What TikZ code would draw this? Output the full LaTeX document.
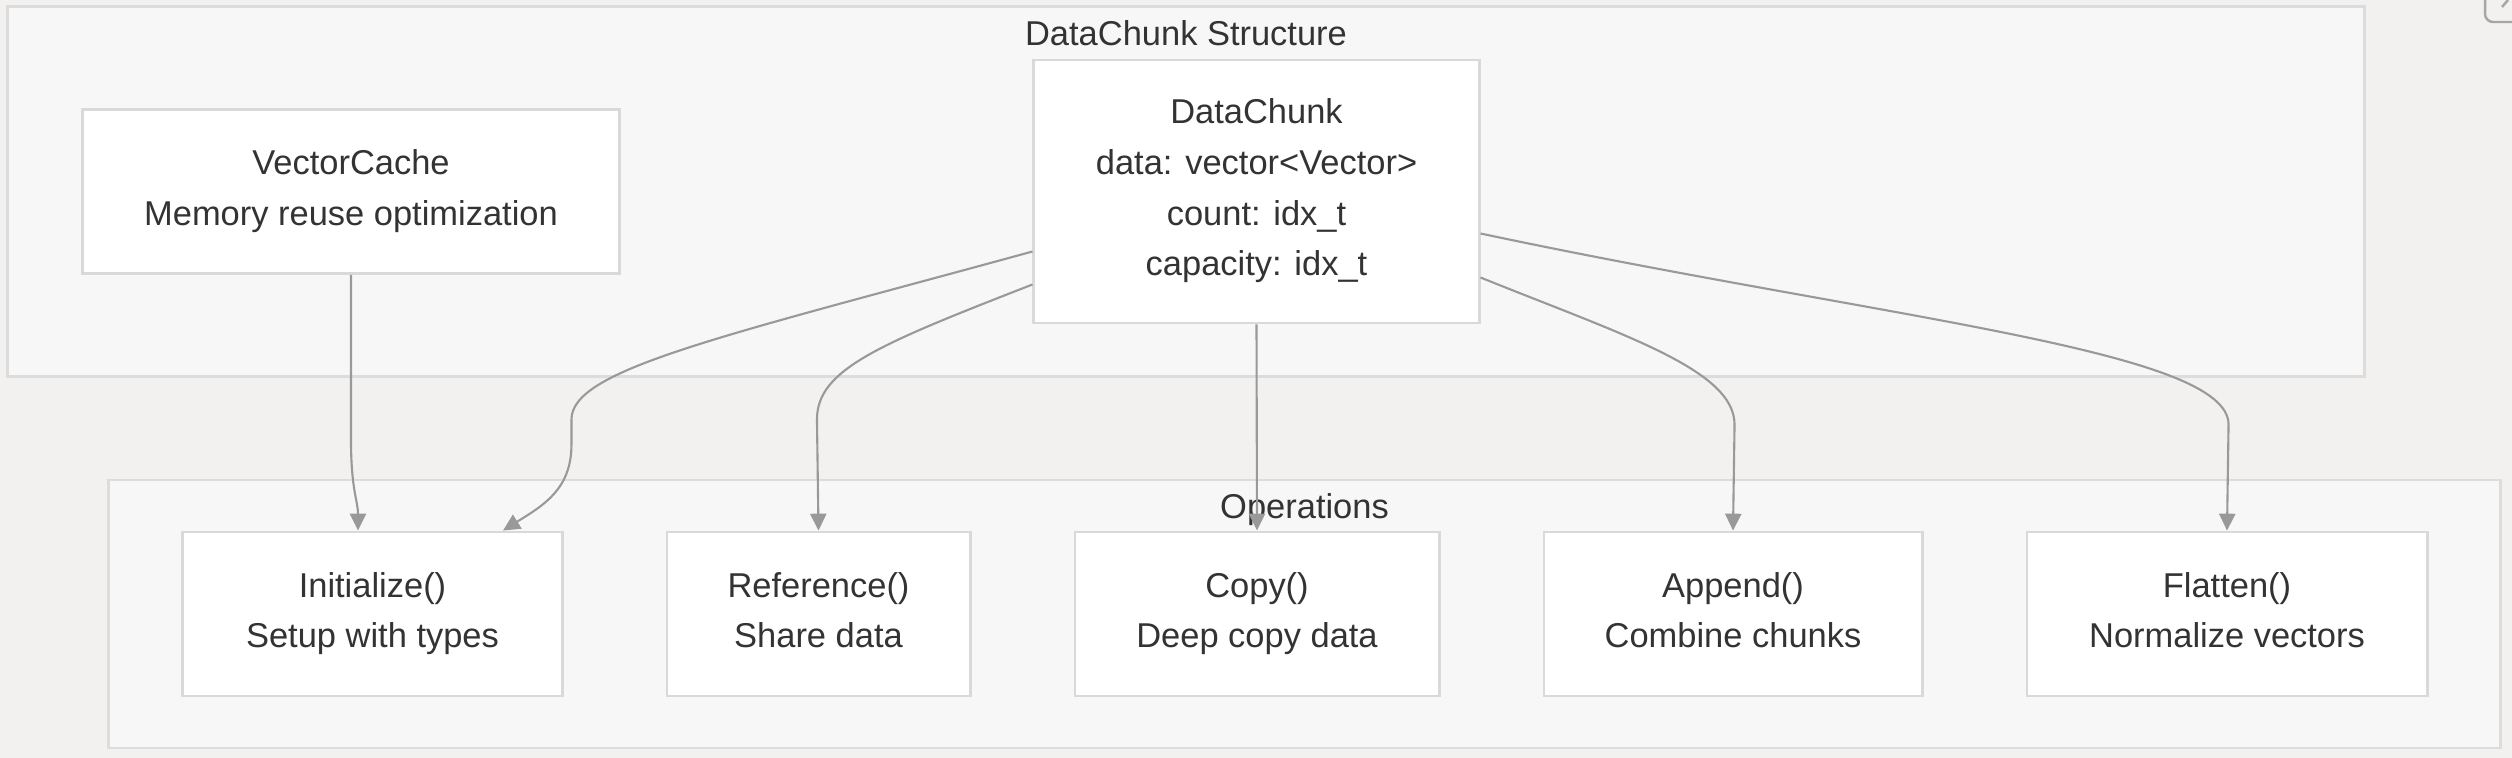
\documentclass[tikz,border=0pt]{standalone}
\usepackage{fontspec}
\setmainfont{Liberation Sans}
\usepackage{xcolor}
\usepackage{tikz}
\usetikzlibrary{arrows.meta,calc}

\definecolor{bgcol}{HTML}{F2F1EF}
\definecolor{clustercol}{HTML}{F7F7F7}
\definecolor{clusterline}{HTML}{DCDCDC}
\definecolor{boxline}{HTML}{D9D9D9}
\definecolor{edgecol}{HTML}{999999}
\definecolor{textcol}{HTML}{333333}

% struts that sit the lines a little low, as in the reference
\newcommand{\topstrut}{\rule{0pt}{20pt}}
\newcommand{\botstrut}{\rule[-2.3pt]{0pt}{2.3pt}}

\begin{document}
\begin{tikzpicture}[
    x=0.01cm, y=-0.01cm,
    % Subgraph frames
    cluster/.style={rectangle, draw=clusterline, fill=clustercol, line width=0.8pt,
        inner sep=0pt},
    clustertitle/.style={font=\fontsize{9.8}{12}\selectfont, text=textcol, inner sep=0pt},
    % Component boxes
    component/.style={rectangle, draw=boxline, fill=white, line width=0.8pt,
        minimum height=1.64cm, align=center, text=textcol,
        font=\fontsize{9.8}{14.4}\selectfont,
        execute at begin node=\topstrut, execute at end node=\botstrut},
    % Arrow styles
    arrow/.style={-{Triangle[length=4.8pt,width=4.6pt]}, line width=0.6pt, color=edgecol},
    icon/.style={draw=gray!70, line width=0.7pt, rounded corners=0.08cm}
]
    % Canvas
    \fill[bgcol] (0,0) rectangle (2512,758);
    \useasboundingbox (0,0) rectangle (2512,758);

    % Frames
    \node[cluster, minimum width=23.56cm, minimum height=3.69cm] (structure) at (1186,191.5) {};
    \node[clustertitle] (structuretitle) at (1186,33) {DataChunk Structure};
    \node[cluster, minimum width=23.91cm, minimum height=2.68cm] (operations) at (1304.5,614) {};
    \node[clustertitle] (operationstitle) at (1304.5,510) {Operations};

    % DataChunk Structure (top row)
    \node[component, minimum width=5.36cm] (cache) at (351,191.5) {VectorCache\\Memory reuse optimization};
    \node[component, minimum width=4.45cm, minimum height=2.63cm] (chunk) at (1256.5,191.5)
        {DataChunk\\data: vector<Vector>\\count: idx\_t\\capacity: idx\_t};

    % Operations (bottom row)
    \node[component, minimum width=3.79cm] (initialize) at (372.5,614) {Initialize()\\Setup with types};
    \node[component, minimum width=3.03cm] (reference) at (818.5,614) {Reference()\\Share data};
    \node[component, minimum width=3.64cm] (copy) at (1257,614) {Copy()\\Deep copy data};
    \node[component, minimum width=3.78cm] (append) at (1733,614) {Append()\\Combine chunks};
    \node[component, minimum width=4.00cm] (flatten) at (2227,614) {Flatten()\\Normalize vectors};

    % Edges into Initialize()
    \draw[arrow] (cache.south) -- ++(0,165) .. controls +(0,50) and +(0,-30) .. ($(initialize.north)+(-14.5,0)$);
    \draw[arrow] ($(chunk.west)+(0,60)$) .. controls +(-314,86) and +(0,-50) .. ++(-461,168)
        -- ++(0,25) .. controls +(0,45) and +(40,-25) .. ($(initialize.north)+(130.5,0)$);

    % Edges to the other operations
    \draw[arrow] ($(chunk.west)+(0,93)$) .. controls +(-154,60) and +(0,-50) .. ++(-215.5,135) -- (reference.north);
    \draw[arrow] (chunk.south) -- (copy.north);
    \draw[arrow] ($(chunk.east)+(0,86)$) .. controls +(141,57) and +(0,-55) .. ++(254,147) -- (append.north);
    \draw[arrow] ($(chunk.east)+(0,42)$) .. controls +(400,85) and +(0,-75) .. ++(748,191) -- (flatten.north);

    % Corner button (cut off by the page edge)
    \begin{scope}
        \clip (0,0) rectangle (2512,758);
        \draw[icon] (2485,-30) rectangle (2545,22);
        \draw[icon] (2502,7) -- (2508,0);
    \end{scope}
\end{tikzpicture}
\end{document}
